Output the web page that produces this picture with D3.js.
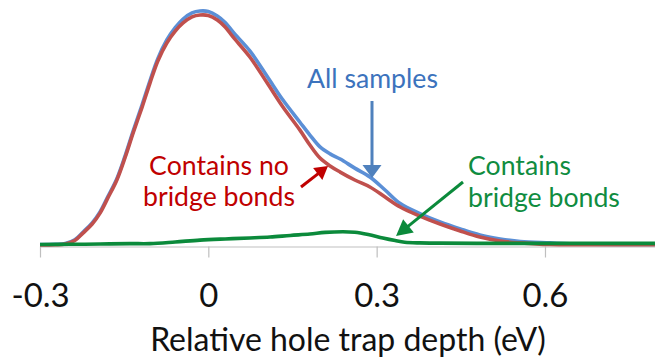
<!DOCTYPE html>
<html>
<head>
<meta charset="utf-8">
<script src="https://cdn.jsdelivr.net/npm/d3@7"></script>
<style>
  html, body { margin: 0; padding: 0; background: #fff; }
  svg { display: block; }
  text { font-family: Lato, "Open Sans", sans-serif; }
</style>
</head>
<body>
<script>
// ---------- data (x = relative hole trap depth in eV, y = relative density) ----------
const allX = [-0.300,-0.273,-0.255,-0.238,-0.223,-0.207,-0.193,-0.179,-0.163,-0.148,-0.134,-0.118,-0.104,-0.090,-0.074,-0.059,-0.045,-0.029,-0.015,0.000,0.016,0.030,0.044,0.074,0.105,0.133,0.163,0.181,0.199,0.217,0.235,0.261,0.288,0.315,0.342,0.377,0.413,0.449,0.484,0.520,0.556,0.609,0.662,0.734,0.796];
const allY = [0.2,0.3,0.6,2.2,5.6,9.5,14.2,20.8,28.5,38.5,48.9,60.2,70.5,80.0,88.0,93.3,97.0,99.6,100.4,100.2,98.3,95.5,91.4,83.3,72.3,62.2,52.8,47.2,42.1,39.1,36.9,33.0,29.2,23.6,17.8,13.5,9.9,6.9,4.3,2.6,1.5,0.9,0.4,0.2,0.2];

const noBridgeX = [-0.300,-0.273,-0.255,-0.238,-0.223,-0.207,-0.193,-0.179,-0.163,-0.148,-0.134,-0.118,-0.104,-0.090,-0.074,-0.059,-0.045,-0.029,-0.015,0.000,0.016,0.030,0.044,0.074,0.105,0.133,0.163,0.181,0.199,0.217,0.235,0.261,0.288,0.315,0.342,0.377,0.413,0.449,0.484,0.520,0.556,0.609,0.662,0.734,0.796];
const noBridgeY = [0,0.1,0.4,1.9,5.2,9.0,13.7,20.2,27.9,37.8,48.1,59.2,69.5,79.0,86.7,91.8,95.3,97.9,98.7,98.5,96.6,93.6,89.3,80.7,69.5,59.2,49.4,42.9,37.3,33.9,31.3,27.9,24.9,20.6,16.3,12.4,9.0,6.0,3.4,1.7,0.9,0.2,0.1,0.1,0.1];

const bridgeX = [-0.300,-0.247,-0.193,-0.140,-0.104,-0.059,-0.015,0.030,0.074,0.110,0.146,0.181,0.208,0.240,0.261,0.285,0.311,0.333,0.350,0.377,0.413,0.502,0.609,0.698,0.796];
const bridgeY = [0.2,0.3,0.4,0.6,0.6,1.3,2.1,2.6,3.0,3.4,4.1,4.7,5.4,5.7,5.5,4.5,3.0,1.9,1.2,0.9,0.8,0.7,0.7,0.7,0.7];

const tickValues = [-0.3, 0, 0.3, 0.6];
const tickLabels = ["-0.3", "0", "0.3", "0.6"];
const axisTitle = "Relative hole trap depth (eV)";
const labelAll = ["All samples"];
const labelNoBridge = ["Contains no", "bridge bonds"];
const labelBridge = ["Contains", "bridge bonds"];

// ---------- layout ----------
const W = 655, H = 362;
const svg = d3.select("body").append("svg").attr("width", W).attr("height", H);

const x = d3.scaleLinear().domain([-0.3, 0.8]).range([40, 657.2]);
const y = d3.scaleLinear().domain([0, 100]).range([245, 12]);

const colBlue = "#5b8fd6", colRed = "#c0504d", colGreen = "#0b8a3b";
const txtBlue = "#3c73bd", txtRed = "#c00000", txtGreen = "#0f8c40";

// axis
const axisG = svg.append("g").attr("transform", "translate(0,246.5)")
  .call(d3.axisBottom(x).tickValues(tickValues).tickFormat((d, i) => tickLabels[i])
        .tickSizeInner(11).tickSizeOuter(0));
axisG.select(".domain").attr("stroke", "#bfbfbf").attr("stroke-width", 1.2);
axisG.selectAll(".tick line").attr("stroke", "#bfbfbf").attr("stroke-width", 1.2);
axisG.selectAll(".tick text").attr("y", 60.5).attr("dy", 0).attr("fill", "#111")
  .style("font-family", "Lato, sans-serif");

function fit(sel, width) {
  sel.style("font-size", "20px");
  const len = sel.node().getComputedTextLength();
  sel.style("font-size", (20 * width / len) + "px");
}
// tick label size fitted to "0.6" width
{
  const t = axisG.selectAll(".tick text").filter((d, i) => i === 3);
  t.style("font-size", "20px");
  const len = t.node().getComputedTextLength();
  axisG.selectAll(".tick text").style("font-size", (20 * 46 / len) + "px");
}

const title = svg.append("text").attr("x", 348).attr("y", 351).attr("text-anchor", "middle")
  .attr("fill", "#111").text(axisTitle);
fit(title, 396);

// curves
const line = d3.line().x(d => x(d[0])).y(d => y(d[1])).curve(d3.curveCatmullRom.alpha(0.5));
const zip = (a, b) => a.map((v, i) => [v, b[i]]);

svg.append("path").datum(zip(allX, allY)).attr("d", line)
  .attr("fill", "none").attr("stroke", colBlue).attr("stroke-width", 3.6).attr("stroke-linejoin", "round");
svg.append("path").datum(zip(noBridgeX, noBridgeY)).attr("d", line)
  .attr("fill", "none").attr("stroke", colRed).attr("stroke-width", 3.6).attr("stroke-linejoin", "round");
svg.append("path").datum(zip(bridgeX, bridgeY)).attr("d", line)
  .attr("fill", "none").attr("stroke", colGreen).attr("stroke-width", 3.6).attr("stroke-linejoin", "round");

// arrows
function arrow(x1, y1, x2, y2, color, headLen, headW, sw) {
  const dx = x2 - x1, dy = y2 - y1, L = Math.hypot(dx, dy);
  const ux = dx / L, uy = dy / L;
  const bx = x2 - ux * headLen, by = y2 - uy * headLen;
  svg.append("line").attr("x1", x1).attr("y1", y1).attr("x2", bx + ux).attr("y2", by + uy)
    .attr("stroke", color).attr("stroke-width", sw);
  const px = -uy, py = ux;
  svg.append("polygon").attr("points", [
    [x2, y2], [bx + px * headW / 2, by + py * headW / 2], [bx - px * headW / 2, by - py * headW / 2]
  ].map(p => p.join(",")).join(" ")).attr("fill", color);
}
arrow(372, 101, 372, 178, "#4f81bd", 13, 19, 3);
arrow(301, 187, 328, 166, txtRed, 13, 15, 3);
arrow(463, 182, 396, 236, colGreen, 16, 17, 3);

// labels
const tAll = svg.append("text").attr("x", 307).attr("y", 88).attr("fill", txtBlue).text(labelAll[0]);
fit(tAll, 131);
const fsAnn = parseFloat(tAll.style("font-size"));

labelNoBridge.forEach((s, i) => {
  svg.append("text").attr("x", 219).attr("y", i ? 206 : 175).attr("text-anchor", "middle")
    .attr("fill", txtRed).style("font-size", fsAnn + "px").text(s);
});
labelBridge.forEach((s, i) => {
  svg.append("text").attr("x", 468).attr("y", i ? 207 : 175)
    .attr("fill", txtGreen).style("font-size", fsAnn + "px").text(s);
});
</script>
</body>
</html>
